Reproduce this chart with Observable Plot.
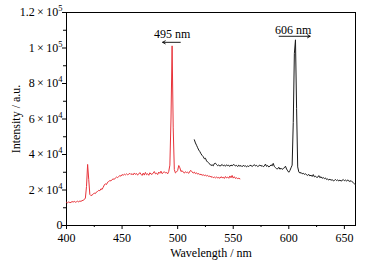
<!DOCTYPE html>
<html>
<head>
<meta charset="utf-8">
<script src="https://cdn.jsdelivr.net/npm/d3@7"></script>
<script src="https://cdn.jsdelivr.net/npm/@observablehq/plot@0.6"></script>
<style>
  html, body { margin: 0; padding: 0; background: white; }
  #chart { width: 367px; height: 260px; }
</style>
</head>
<body>
<div id="chart"></div>
<script>
// Red spectrum (excitation), 400–556 nm, 1 nm step
const redStart = 400;
const redValues = [
  13100,12800,13300,12900,13000,13500,13200,13600,13100,13400,
  13700,13300,13800,13600,14000,14200,14600,15500,22000,34400,
  26000,17500,16800,17200,17600,18300,18000,18900,19200,19800,
  19600,20700,20300,21500,22800,23500,23100,24400,24800,25300,
  25100,25900,26200,26000,26800,27300,27000,27600,28100,27800,
  28700,28300,28900,28500,29100,28600,28900,29400,28700,29200,
  28500,29600,28800,29300,28400,29000,29800,28900,28200,29500,
  28400,29900,28600,29200,28300,29700,29000,28800,29600,30400,
  29100,29500,28700,30100,29400,30600,29200,29800,30300,29600,
  29900,29100,30500,34000,60000,101200,55000,31500,29600,30200,
  31000,33800,32500,30400,30900,30100,29500,30300,29800,30000,
  29400,30600,31000,30200,29500,30100,29200,29700,28900,29300,
  28600,28900,28300,28600,28100,28500,27800,28200,27600,27900,
  27200,27600,26900,27300,26800,27400,26700,27100,26600,27500,
  26900,27200,26500,27600,26800,27300,26600,27900,26900,28200,
  26700,27500,26500,26900,26400,26600,26300
];
// Black spectrum (emission), 515–660 nm, 1 nm step
const blackStart = 515;
const blackValues = [
  48300,46500,45200,43800,42500,41600,40400,39500,38800,37600,
  37900,36400,35700,35200,34600,33800,34200,33600,34900,35100,
  34300,33700,34100,33500,33800,34400,33600,34000,33400,34200,
  33700,33900,33300,34100,33600,34300,34200,33500,33900,33200,
  34000,33400,33800,33100,33900,33400,33700,33000,33600,33200,
  33900,33800,33300,33700,34300,33500,33900,33200,33600,34100,
  33400,33800,33100,33500,34600,33300,33800,33000,33400,34200,
  33600,35000,33200,32600,32000,31900,32800,31700,32300,31600,
  32100,32500,33400,31800,30800,30000,31000,32500,34000,58000,
  97000,104600,66000,33000,30200,29500,29900,29100,29400,28800,
  29200,28500,28200,28800,27900,28400,27600,28700,27400,27800,
  27100,27200,28100,26900,27500,26600,27000,26400,26800,25900,
  26200,25600,26100,25500,25800,25200,25400,25900,25300,25700,
  25100,25600,25000,25400,25900,25200,25600,25000,25700,25100,
  24800,25300,24600,24100,23500,23000
];

// Axes
const xMajor = [400, 450, 500, 550, 600, 650];
const xMinor = [425, 475, 525, 575, 625];
const yMajor = [0, 20000, 40000, 60000, 80000, 100000, 120000];
const yMantissa = ["0", "2", "4", "6", "8", "1", "1.2"];
const yExponent = ["", "4", "4", "4", "4", "5", "5"];
const yMinor = [10000, 30000, 50000, 70000, 90000, 110000];

// Annotations
const noteText = ["495 nm", "606 nm"];
const noteX = [495, 604];
const noteY = [107800, 110200];
const arrowFrom = [502.4, 591.3];
const arrowTo = [486.5, 619.2];
const arrowY = [103200, 106600];

const red = redValues.map((v, i) => ({wl: redStart + i, v}));
const black = blackValues.map((v, i) => ({wl: blackStart + i, v}));
const notes = noteText.map((t, i) => ({t, x: noteX[i], y: noteY[i], x1: arrowFrom[i], x2: arrowTo[i], ay: arrowY[i]}));

const font = "'Liberation Serif', 'Times New Roman', serif";

const chart = Plot.plot({
  width: 367,
  height: 260,
  marginLeft: 66,
  marginRight: 12,
  marginTop: 12,
  marginBottom: 35,
  style: {fontFamily: font, fontSize: "12px", background: "white", color: "black"},
  x: {domain: [400, 660]},
  y: {domain: [0, 120000]},
  marks: [
    Plot.axisX({ticks: xMajor, tickSize: 4, tickPadding: 4, tickFormat: d => String(d),
      label: "Wavelength / nm", labelAnchor: "center", labelArrow: "none", labelOffset: 31, fontSize: 12}),
    Plot.axisX({ticks: xMinor, tickSize: 2, tickFormat: () => "", label: null}),
    Plot.axisY({ticks: yMajor, tickSize: 4, tickPadding: 0, tickFormat: d => {
        const i = yMajor.indexOf(d);
        return yExponent[i] ? yMantissa[i] + "\u2009×\u200910^" + yExponent[i] : yMantissa[i];
      },
      label: "Intensity / a.u.", labelAnchor: "center", labelArrow: "none", labelOffset: 55, fontSize: 12}),
    Plot.axisY({ticks: yMinor, tickSize: 3, tickFormat: () => "", label: null}),
    Plot.frame({stroke: "black", strokeWidth: 1}),
    Plot.line(red, {x: "wl", y: "v", stroke: "#e8333a", strokeWidth: 1}),
    Plot.line(black, {x: "wl", y: "v", stroke: "#1a1a1a", strokeWidth: 1}),
    Plot.text(notes, {x: "x", y: "y", text: "t", fontSize: 12, fill: "black"}),
    Plot.arrow(notes, {x1: "x1", x2: "x2", y1: "ay", y2: "ay", stroke: "black", strokeWidth: 0.9, headLength: 5})
  ]
});

// Render "a×10^n" tick labels with a real superscript
chart.querySelectorAll("text").forEach(t => {
  const s = t.textContent;
  const k = s.indexOf("^");
  if (k < 0) return;
  const base = s.slice(0, k), exp = s.slice(k + 1);
  while (t.firstChild) t.removeChild(t.firstChild);
  const ns = "http://www.w3.org/2000/svg";
  const a = document.createElementNS(ns, "tspan");
  a.textContent = base;
  const b = document.createElementNS(ns, "tspan");
  b.textContent = exp;
  b.setAttribute("dy", "-5");
  b.setAttribute("font-size", "8.5");
  t.appendChild(a);
  t.appendChild(b);
});

document.getElementById("chart").appendChild(chart);
</script>
</body>
</html>
